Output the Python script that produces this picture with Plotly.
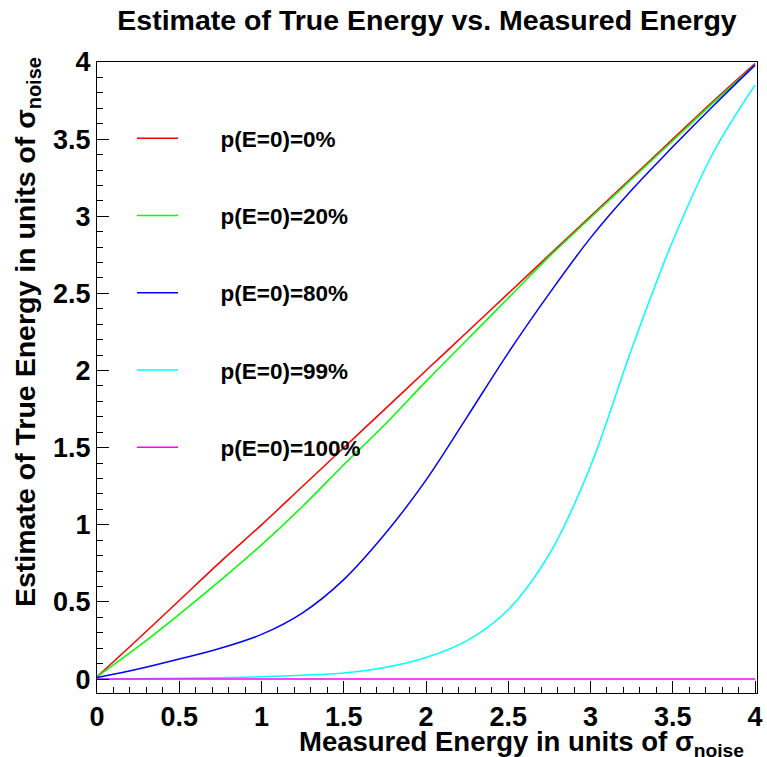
import plotly.graph_objects as go

# Measured energy (units of sigma_noise)
x_vals = [0.0, 0.25, 0.5, 0.75, 1.0, 1.25, 1.5, 1.75, 2.0, 2.25, 2.5, 2.75, 3.0, 3.25, 3.5, 3.75, 4.0]

# Estimates of true energy for each prior probability p(E=0)
est_p0 = [0.015, 0.26, 0.51, 0.76, 1.0, 1.25, 1.5, 1.75, 2.0, 2.25, 2.5, 2.75, 3.0, 3.25, 3.5, 3.75, 3.99]
est_p20 = [0.015, 0.21, 0.42, 0.64, 0.87, 1.12, 1.39, 1.65, 1.93, 2.20, 2.47, 2.74, 2.99, 3.24, 3.49, 3.74, 3.98]
est_p80 = [0.01, 0.065, 0.13, 0.20, 0.29, 0.43, 0.645, 0.94, 1.29, 1.70, 2.115, 2.50, 2.86, 3.17, 3.45, 3.72, 3.98]
est_p99 = [0.0, 0.002, 0.005, 0.009, 0.015, 0.025, 0.04, 0.075, 0.14, 0.25, 0.45, 0.81, 1.38, 2.14, 2.84, 3.42, 3.85]
est_p100 = [0.0] * 17

series_names = ["p(E=0)=0%", "p(E=0)=20%", "p(E=0)=80%", "p(E=0)=99%", "p(E=0)=100%"]
series_vals = [est_p0, est_p20, est_p80, est_p99, est_p100]
series_colors = ["#ff0000", "#00ff00", "#0000ff", "#00ffff", "#ff00ff"]

x_ticks = [0, 0.5, 1, 1.5, 2, 2.5, 3, 3.5, 4]
x_ticktext = ["0", "0.5", "1", "1.5", "2", "2.5", "3", "3.5", "4"]
y_ticks = [0, 0.5, 1, 1.5, 2, 2.5, 3, 3.5, 4]
y_ticktext = ["0", "0.5", "1", "1.5", "2", "2.5", "3", "3.5", "4"]

FONT = "Liberation Sans, Arial, sans-serif"
W, H = 767, 757
L, R, T, B = 97, 10, 62, 64

fig = go.Figure()
for i, (name, vals, col) in enumerate(zip(series_names, series_vals, series_colors)):
    fig.add_trace(go.Scatter(
        x=x_vals, y=vals, mode="lines", name="\u00a0" * 6 + name,
        line=dict(color=col, width=1.5, shape="spline", smoothing=1.0),
        legendgroup=f"g{i}",
    ))

axis_common = dict(
    showline=True, linecolor="black", linewidth=1, mirror=True,
    ticks="inside", ticklen=12, tickcolor="black", tickwidth=1,
    showgrid=False, zeroline=False, automargin=False,
    tickfont=dict(family=FONT, size=27, color="black", weight="bold"),
    minor=dict(dtick=0.1, ticks="inside", ticklen=6, tickcolor="black", showgrid=False),
)

fig.update_layout(
    width=W, height=H,
    margin=dict(l=L, r=R, t=T, b=B, autoexpand=False),
    paper_bgcolor="white", plot_bgcolor="white",
    title=dict(text="Estimate of True Energy vs. Measured Energy",
               x=427 / W, xanchor="center", y=1 - 20 / H, yanchor="middle",
               font=dict(family=FONT, size=28.5, color="black", weight="bold")),
    xaxis=dict(range=[0, 4.012], tickvals=x_ticks, ticktext=x_ticktext, **axis_common),
    yaxis=dict(range=[-0.09, 4.0], tickvals=y_ticks, ticktext=y_ticktext, **axis_common),
    legend=dict(x=(132 - L) / (W - L - R), xanchor="left",
                y=(H - B - 117) / (H - T - B), yanchor="top",
                bgcolor="rgba(0,0,0,0)", borderwidth=0,
                font=dict(family=FONT, size=22.5, color="black", weight="bold"),
                itemwidth=41, tracegroupgap=45, traceorder="grouped"),
    showlegend=True,
    annotations=[
        dict(text="Measured Energy in units of σ<sub>noise</sub>",
             xref="paper", yref="paper", x=(746 - L) / (W - L - R), xanchor="right",
             y=(H - B - 743) / (H - T - B), yanchor="middle", showarrow=False,
             font=dict(family=FONT, size=27.5, color="black", weight="bold")),
        dict(text="Estimate of True Energy in units of σ<sub>noise</sub>",
             xref="paper", yref="paper", x=(27 - L) / (W - L - R), xanchor="center",
             y=(H - B - 55) / (H - T - B), yanchor="top", textangle=-90, showarrow=False,
             font=dict(family=FONT, size=28.5, color="black", weight="bold")),
    ],
)

fig.write_html("out.html")
